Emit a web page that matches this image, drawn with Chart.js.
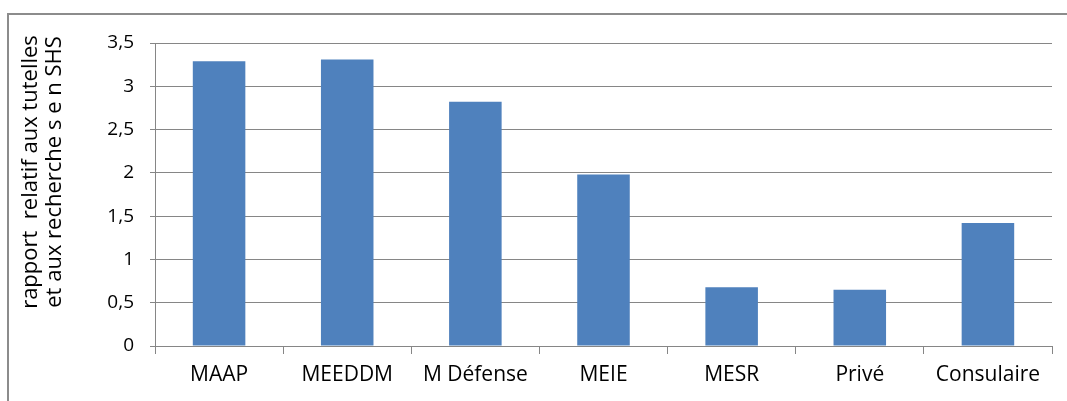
<!DOCTYPE html>
<html><head><meta charset="utf-8">
<script src="https://cdn.jsdelivr.net/npm/chart.js@4/dist/chart.umd.min.js"></script>
<style>
html,body{margin:0;padding:0;background:#fff;}
#wrap{position:relative;width:1067px;height:401px;overflow:hidden;}
#frame{position:absolute;left:7px;top:13px;width:1080px;height:400px;border-left:2px solid #8c8c8c;border-top:2px solid #8c8c8c;}
canvas{position:absolute;left:0;top:0;}
</style></head>
<body><div id="wrap"><div id="frame"></div><canvas id="c" width="1067" height="401"></canvas></div>
<script>
const categories = ["MAAP","MEEDDM","M Défense","MEIE","MESR","Privé","Consulaire"];
const values = [3.29, 3.31, 2.82, 1.98, 0.68, 0.65, 1.42];
const yTitle = ["rapport  relatif aux tutelles","et aux recherche s e n SHS"];
const FONT = "'Open Sans', sans-serif";

const yTitlePlugin = {
  id: 'yTitle',
  afterDraw(chart) {
    const ctx = chart.ctx;
    ctx.save();
    ctx.font = "22px " + FONT;
    ctx.fillStyle = '#000';
    ctx.textAlign = 'center';
    ctx.textBaseline = 'middle';
    const xs = [31, 55];
    yTitle.forEach((t, i) => {
      ctx.save();
      ctx.translate(xs[i], 172);
      ctx.rotate(-Math.PI / 2);
      ctx.fillText(t, 0, 0);
      ctx.restore();
    });
    ctx.restore();
  }
};

new Chart(document.getElementById('c'), {
  type: 'bar',
  data: { labels: categories, datasets: [{ data: values, backgroundColor: '#4F81BD', borderWidth: 0, categoryPercentage: 1, barPercentage: 0.41 }] },
  options: {
    responsive: false, animation: false, devicePixelRatio: 1,
    layout: { padding: { left: 0, right: 15, top: 43, bottom: 0 } },
    plugins: { legend: { display: false }, tooltip: { enabled: false } },
    scales: {
      x: {
        afterFit(s) { s.height = 55; },
        grid: { display: true, drawOnChartArea: false, drawTicks: true, tickLength: 8, color: '#868686', offset: true },
        border: { display: true, color: '#868686', width: 1 },
        ticks: { color: '#000', font: { family: FONT, size: 21 }, padding: 8 }
      },
      y: {
        min: 0, max: 3.5,
        afterFit(s) { s.width = 155; },
        grid: { color: '#868686', drawTicks: true, tickLength: 5 },
        border: { display: true, color: '#868686', width: 1 },
        ticks: { stepSize: 0.5, color: '#000', font: { family: FONT, size: 19 }, padding: 16,
          callback: v => String(v).replace('.', ',') }
      }
    }
  },
  plugins: [yTitlePlugin]
});
</script></body></html>
